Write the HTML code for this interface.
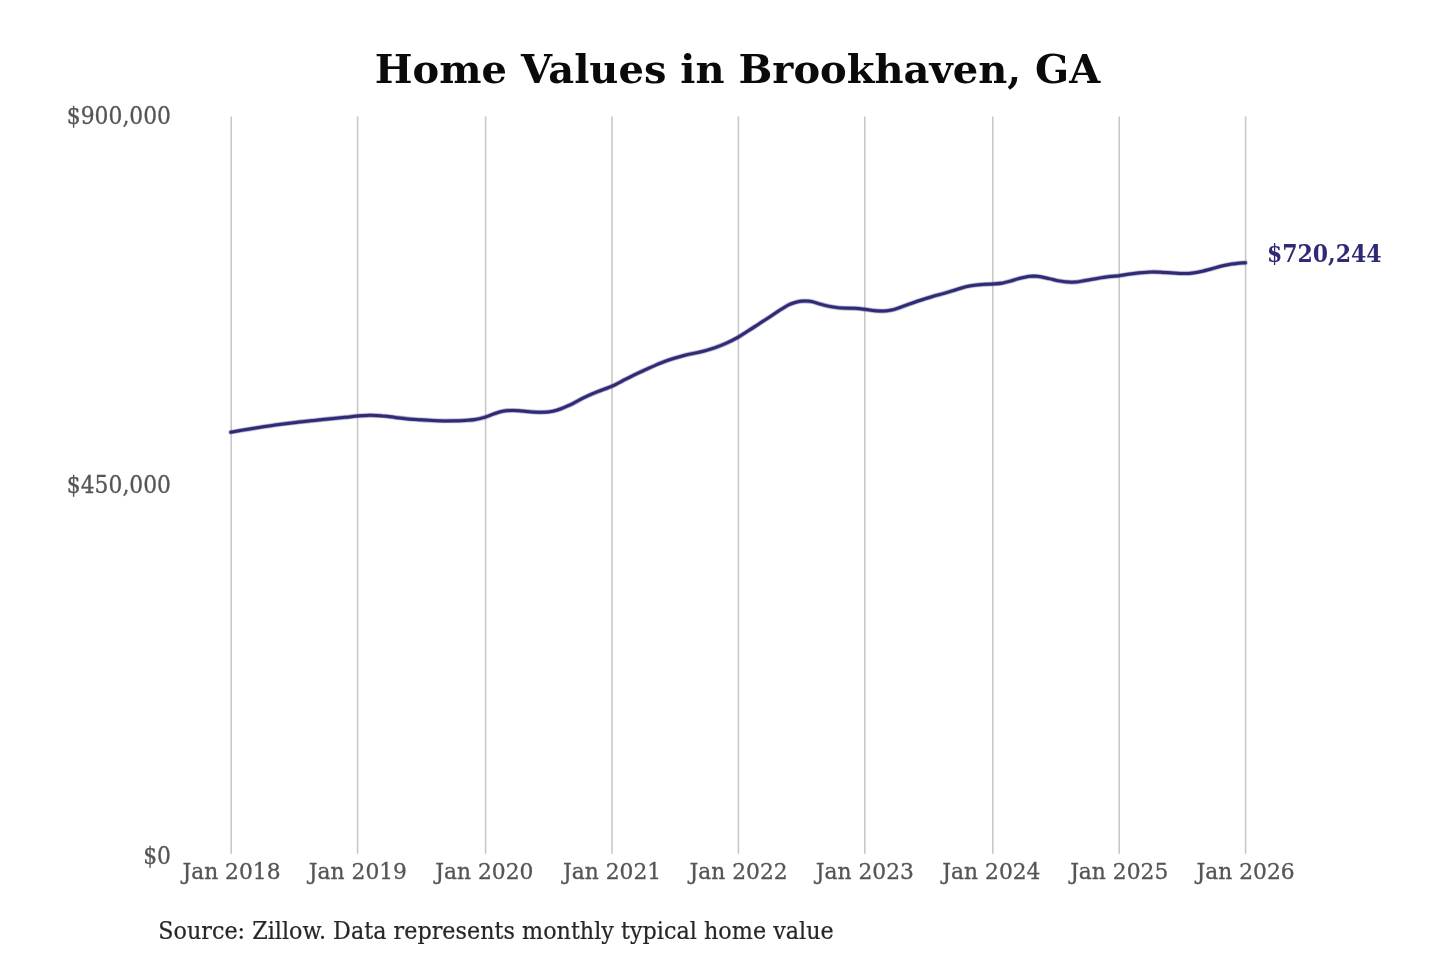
<!DOCTYPE html>
<html lang="en"><head><meta charset="utf-8"><title>Home Values in Brookhaven, GA</title>
<style>
html,body{margin:0;padding:0;background:#fff;}
body{width:1440px;height:960px;overflow:hidden;font-family:"DejaVu Serif","Liberation Serif",serif;}
svg{display:block;}
svg text{font-family:"DejaVu Serif","Liberation Serif",serif;}
.title{font-size:40px;font-weight:bold;fill:#0a0a0a;text-anchor:middle;}
.grid line{stroke:#c8c8c8;stroke-width:1.6;}
.yl text{font-size:21.85px;fill:#555;stroke:#555;stroke-width:.3px;text-anchor:end;}
.xl text{font-size:21.8px;fill:#555;stroke:#555;stroke-width:.3px;text-anchor:middle;}
.val{font-size:22px;font-weight:bold;fill:#2f2a76;}
.src{font-size:22.3px;fill:#262626;stroke:#262626;stroke-width:.2px;}
.ln{fill:none;stroke:#2f2a76;stroke-width:3.0;stroke-linecap:round;stroke-linejoin:round;}
.h1{stroke-width:5.4;stroke-opacity:.14;}
.h2{stroke-width:4.2;stroke-opacity:.38;}
</style></head><body>
<svg width="1440" height="960" viewBox="0 0 1440 960">
<rect width="1440" height="960" fill="#ffffff"/>
<text class="title" transform="translate(737.5,82.6) scale(1,0.972)">Home Values in Brookhaven, GA</text>
<g class="grid"><line x1="231.2" y1="116.6" x2="231.2" y2="853.8"/><line x1="357.6" y1="116.6" x2="357.6" y2="853.8"/><line x1="485.6" y1="116.6" x2="485.6" y2="853.8"/><line x1="612.0" y1="116.6" x2="612.0" y2="853.8"/><line x1="738.4" y1="116.6" x2="738.4" y2="853.8"/><line x1="864.8" y1="116.6" x2="864.8" y2="853.8"/><line x1="992.8" y1="116.6" x2="992.8" y2="853.8"/><line x1="1119.2" y1="116.6" x2="1119.2" y2="853.8"/><line x1="1245.6" y1="116.6" x2="1245.6" y2="853.8"/></g>
<g class="yl"><text transform="translate(171,124.3) scale(1,1.07)">$900,000</text><text transform="translate(171,492.5) scale(1,1.07)">$450,000</text><text transform="translate(171,863.5) scale(1,1.07)">$0</text></g>
<g class="xl"><text transform="translate(231.5,879.4) scale(1,1.06)">Jan 2018</text><text transform="translate(357.9,879.4) scale(1,1.06)">Jan 2019</text><text transform="translate(484.3,879.4) scale(1,1.06)">Jan 2020</text><text transform="translate(612.1,879.4) scale(1,1.06)">Jan 2021</text><text transform="translate(738.6,879.4) scale(1,1.06)">Jan 2022</text><text transform="translate(864.8,879.4) scale(1,1.06)">Jan 2023</text><text transform="translate(991.4,879.4) scale(1,1.06)">Jan 2024</text><text transform="translate(1119.2,879.4) scale(1,1.06)">Jan 2025</text><text transform="translate(1245.6,879.4) scale(1,1.06)">Jan 2026</text></g>
<path class="ln h1" d="M230.8,432.2C232.6,431.9 237.1,431.1 241.7,430.3C246.3,429.5 252.8,428.5 258.3,427.6C263.9,426.7 269.4,425.8 275.0,425.0C280.6,424.2 286.1,423.5 291.7,422.9C297.2,422.2 302.8,421.7 308.3,421.1C313.9,420.5 318.9,419.9 325.0,419.3C331.1,418.7 339.6,417.9 345.0,417.3C350.4,416.8 353.3,416.3 357.5,416.0C361.7,415.7 365.8,415.3 370.0,415.3C374.2,415.3 378.3,415.5 382.5,415.9C386.7,416.2 390.8,416.9 395.0,417.4C399.2,417.9 403.3,418.5 407.5,418.9C411.7,419.3 415.8,419.5 420.0,419.8C424.2,420.1 428.3,420.3 432.5,420.5C436.7,420.7 440.8,420.8 445.0,420.9C449.2,420.9 454.2,420.9 457.5,420.8C460.8,420.7 462.1,420.6 465.0,420.4C467.9,420.2 471.6,420.2 475.0,419.6C478.4,419.1 482.2,418.1 485.4,417.1C488.6,416.1 491.3,414.7 494.2,413.8C497.1,412.8 499.3,411.9 502.5,411.3C505.7,410.7 509.8,410.4 513.3,410.4C516.8,410.4 520.2,410.9 523.3,411.1C526.4,411.4 528.9,411.7 531.7,411.9C534.5,412.1 537.2,412.3 540.0,412.3C542.8,412.3 545.5,412.2 548.3,411.9C551.1,411.6 553.9,411.1 556.7,410.2C559.5,409.4 562.2,408.3 565.0,407.1C567.8,405.9 570.0,405.0 573.3,403.3C576.6,401.6 581.0,399.0 585.0,397.1C589.0,395.2 593.0,393.5 597.5,391.7C602.0,389.9 607.9,388.0 612.1,386.2C616.3,384.4 618.7,382.7 622.5,380.8C626.3,378.9 630.8,376.6 635.0,374.6C639.2,372.6 643.3,370.6 647.5,368.8C651.7,366.9 655.8,365.0 660.0,363.3C664.2,361.6 668.3,360.1 672.5,358.8C676.7,357.4 680.8,356.3 685.0,355.2C689.2,354.2 694.2,353.3 697.5,352.6C700.8,351.9 702.0,351.7 705.0,350.8C708.0,349.9 712.2,348.7 715.8,347.4C719.4,346.1 723.0,344.7 726.7,343.0C730.5,341.3 734.7,339.1 738.3,337.1C741.9,335.1 744.8,333.0 748.3,330.8C751.8,328.6 755.6,326.1 759.2,323.8C762.8,321.4 766.5,319.0 770.0,316.7C773.5,314.4 777.0,312.1 780.0,310.1C783.0,308.2 785.8,306.3 788.3,305.0C790.8,303.7 792.9,303.1 795.0,302.5C797.1,301.9 798.8,301.5 800.8,301.2C802.8,301.0 804.8,301.0 806.7,301.1C808.7,301.2 810.6,301.3 812.5,301.7C814.4,302.1 816.2,303.0 818.3,303.6C820.4,304.2 822.5,304.8 825.0,305.4C827.5,306.0 830.2,306.6 833.3,307.0C836.3,307.4 839.8,307.9 843.3,308.1C846.8,308.3 850.7,308.1 854.2,308.3C857.8,308.5 861.1,308.9 864.6,309.3C868.1,309.7 871.9,310.4 875.0,310.7C878.1,311.0 880.5,311.2 883.3,311.1C886.1,311.0 888.9,310.6 891.7,310.0C894.5,309.4 897.2,308.4 900.0,307.5C902.8,306.6 905.5,305.4 908.3,304.4C911.1,303.4 913.9,302.4 916.7,301.5C919.5,300.6 922.2,299.6 925.0,298.8C927.8,297.9 930.0,297.2 933.3,296.2C936.6,295.3 941.4,294.1 945.0,293.1C948.6,292.1 951.5,291.1 955.0,290.0C958.5,288.9 962.2,287.6 965.8,286.8C969.4,286.0 973.5,285.4 976.7,285.0C979.9,284.6 982.3,284.5 985.0,284.3C987.7,284.1 989.9,284.2 992.9,284.0C995.9,283.8 1000.2,283.4 1003.3,282.9C1006.4,282.3 1008.9,281.5 1011.7,280.7C1014.5,279.9 1017.2,278.9 1020.0,278.2C1022.8,277.5 1026.1,276.9 1028.3,276.5C1030.5,276.1 1031.2,276.1 1033.3,276.1C1035.4,276.2 1038.1,276.4 1040.8,276.8C1043.5,277.2 1046.4,278.0 1049.2,278.6C1052.0,279.2 1054.9,280.1 1057.5,280.6C1060.1,281.1 1062.1,281.6 1065.0,281.8C1067.9,282.1 1071.5,282.3 1075.0,282.1C1078.5,281.9 1081.9,281.0 1085.8,280.4C1089.7,279.8 1094.5,278.8 1098.3,278.2C1102.0,277.6 1104.8,277.1 1108.3,276.7C1111.8,276.3 1115.6,276.1 1119.2,275.7C1122.8,275.2 1126.5,274.5 1130.0,274.0C1133.5,273.5 1136.4,273.1 1140.0,272.8C1143.6,272.5 1148.2,272.1 1151.7,272.0C1155.2,271.9 1157.2,272.0 1160.8,272.2C1164.4,272.4 1169.3,272.8 1173.3,273.0C1177.3,273.2 1181.7,273.5 1185.0,273.5C1188.3,273.5 1190.4,273.3 1193.3,272.9C1196.2,272.5 1199.4,271.9 1202.5,271.2C1205.6,270.6 1208.5,269.6 1211.7,268.8C1214.9,267.9 1218.4,266.8 1221.7,266.0C1225.0,265.2 1228.7,264.5 1231.7,264.0C1234.8,263.5 1237.7,263.3 1240.0,263.1C1242.3,262.9 1244.5,262.8 1245.4,262.8"/><path class="ln h2" d="M230.8,432.2C232.6,431.9 237.1,431.1 241.7,430.3C246.3,429.5 252.8,428.5 258.3,427.6C263.9,426.7 269.4,425.8 275.0,425.0C280.6,424.2 286.1,423.5 291.7,422.9C297.2,422.2 302.8,421.7 308.3,421.1C313.9,420.5 318.9,419.9 325.0,419.3C331.1,418.7 339.6,417.9 345.0,417.3C350.4,416.8 353.3,416.3 357.5,416.0C361.7,415.7 365.8,415.3 370.0,415.3C374.2,415.3 378.3,415.5 382.5,415.9C386.7,416.2 390.8,416.9 395.0,417.4C399.2,417.9 403.3,418.5 407.5,418.9C411.7,419.3 415.8,419.5 420.0,419.8C424.2,420.1 428.3,420.3 432.5,420.5C436.7,420.7 440.8,420.8 445.0,420.9C449.2,420.9 454.2,420.9 457.5,420.8C460.8,420.7 462.1,420.6 465.0,420.4C467.9,420.2 471.6,420.2 475.0,419.6C478.4,419.1 482.2,418.1 485.4,417.1C488.6,416.1 491.3,414.7 494.2,413.8C497.1,412.8 499.3,411.9 502.5,411.3C505.7,410.7 509.8,410.4 513.3,410.4C516.8,410.4 520.2,410.9 523.3,411.1C526.4,411.4 528.9,411.7 531.7,411.9C534.5,412.1 537.2,412.3 540.0,412.3C542.8,412.3 545.5,412.2 548.3,411.9C551.1,411.6 553.9,411.1 556.7,410.2C559.5,409.4 562.2,408.3 565.0,407.1C567.8,405.9 570.0,405.0 573.3,403.3C576.6,401.6 581.0,399.0 585.0,397.1C589.0,395.2 593.0,393.5 597.5,391.7C602.0,389.9 607.9,388.0 612.1,386.2C616.3,384.4 618.7,382.7 622.5,380.8C626.3,378.9 630.8,376.6 635.0,374.6C639.2,372.6 643.3,370.6 647.5,368.8C651.7,366.9 655.8,365.0 660.0,363.3C664.2,361.6 668.3,360.1 672.5,358.8C676.7,357.4 680.8,356.3 685.0,355.2C689.2,354.2 694.2,353.3 697.5,352.6C700.8,351.9 702.0,351.7 705.0,350.8C708.0,349.9 712.2,348.7 715.8,347.4C719.4,346.1 723.0,344.7 726.7,343.0C730.5,341.3 734.7,339.1 738.3,337.1C741.9,335.1 744.8,333.0 748.3,330.8C751.8,328.6 755.6,326.1 759.2,323.8C762.8,321.4 766.5,319.0 770.0,316.7C773.5,314.4 777.0,312.1 780.0,310.1C783.0,308.2 785.8,306.3 788.3,305.0C790.8,303.7 792.9,303.1 795.0,302.5C797.1,301.9 798.8,301.5 800.8,301.2C802.8,301.0 804.8,301.0 806.7,301.1C808.7,301.2 810.6,301.3 812.5,301.7C814.4,302.1 816.2,303.0 818.3,303.6C820.4,304.2 822.5,304.8 825.0,305.4C827.5,306.0 830.2,306.6 833.3,307.0C836.3,307.4 839.8,307.9 843.3,308.1C846.8,308.3 850.7,308.1 854.2,308.3C857.8,308.5 861.1,308.9 864.6,309.3C868.1,309.7 871.9,310.4 875.0,310.7C878.1,311.0 880.5,311.2 883.3,311.1C886.1,311.0 888.9,310.6 891.7,310.0C894.5,309.4 897.2,308.4 900.0,307.5C902.8,306.6 905.5,305.4 908.3,304.4C911.1,303.4 913.9,302.4 916.7,301.5C919.5,300.6 922.2,299.6 925.0,298.8C927.8,297.9 930.0,297.2 933.3,296.2C936.6,295.3 941.4,294.1 945.0,293.1C948.6,292.1 951.5,291.1 955.0,290.0C958.5,288.9 962.2,287.6 965.8,286.8C969.4,286.0 973.5,285.4 976.7,285.0C979.9,284.6 982.3,284.5 985.0,284.3C987.7,284.1 989.9,284.2 992.9,284.0C995.9,283.8 1000.2,283.4 1003.3,282.9C1006.4,282.3 1008.9,281.5 1011.7,280.7C1014.5,279.9 1017.2,278.9 1020.0,278.2C1022.8,277.5 1026.1,276.9 1028.3,276.5C1030.5,276.1 1031.2,276.1 1033.3,276.1C1035.4,276.2 1038.1,276.4 1040.8,276.8C1043.5,277.2 1046.4,278.0 1049.2,278.6C1052.0,279.2 1054.9,280.1 1057.5,280.6C1060.1,281.1 1062.1,281.6 1065.0,281.8C1067.9,282.1 1071.5,282.3 1075.0,282.1C1078.5,281.9 1081.9,281.0 1085.8,280.4C1089.7,279.8 1094.5,278.8 1098.3,278.2C1102.0,277.6 1104.8,277.1 1108.3,276.7C1111.8,276.3 1115.6,276.1 1119.2,275.7C1122.8,275.2 1126.5,274.5 1130.0,274.0C1133.5,273.5 1136.4,273.1 1140.0,272.8C1143.6,272.5 1148.2,272.1 1151.7,272.0C1155.2,271.9 1157.2,272.0 1160.8,272.2C1164.4,272.4 1169.3,272.8 1173.3,273.0C1177.3,273.2 1181.7,273.5 1185.0,273.5C1188.3,273.5 1190.4,273.3 1193.3,272.9C1196.2,272.5 1199.4,271.9 1202.5,271.2C1205.6,270.6 1208.5,269.6 1211.7,268.8C1214.9,267.9 1218.4,266.8 1221.7,266.0C1225.0,265.2 1228.7,264.5 1231.7,264.0C1234.8,263.5 1237.7,263.3 1240.0,263.1C1242.3,262.9 1244.5,262.8 1245.4,262.8"/><path class="ln" d="M230.8,432.2C232.6,431.9 237.1,431.1 241.7,430.3C246.3,429.5 252.8,428.5 258.3,427.6C263.9,426.7 269.4,425.8 275.0,425.0C280.6,424.2 286.1,423.5 291.7,422.9C297.2,422.2 302.8,421.7 308.3,421.1C313.9,420.5 318.9,419.9 325.0,419.3C331.1,418.7 339.6,417.9 345.0,417.3C350.4,416.8 353.3,416.3 357.5,416.0C361.7,415.7 365.8,415.3 370.0,415.3C374.2,415.3 378.3,415.5 382.5,415.9C386.7,416.2 390.8,416.9 395.0,417.4C399.2,417.9 403.3,418.5 407.5,418.9C411.7,419.3 415.8,419.5 420.0,419.8C424.2,420.1 428.3,420.3 432.5,420.5C436.7,420.7 440.8,420.8 445.0,420.9C449.2,420.9 454.2,420.9 457.5,420.8C460.8,420.7 462.1,420.6 465.0,420.4C467.9,420.2 471.6,420.2 475.0,419.6C478.4,419.1 482.2,418.1 485.4,417.1C488.6,416.1 491.3,414.7 494.2,413.8C497.1,412.8 499.3,411.9 502.5,411.3C505.7,410.7 509.8,410.4 513.3,410.4C516.8,410.4 520.2,410.9 523.3,411.1C526.4,411.4 528.9,411.7 531.7,411.9C534.5,412.1 537.2,412.3 540.0,412.3C542.8,412.3 545.5,412.2 548.3,411.9C551.1,411.6 553.9,411.1 556.7,410.2C559.5,409.4 562.2,408.3 565.0,407.1C567.8,405.9 570.0,405.0 573.3,403.3C576.6,401.6 581.0,399.0 585.0,397.1C589.0,395.2 593.0,393.5 597.5,391.7C602.0,389.9 607.9,388.0 612.1,386.2C616.3,384.4 618.7,382.7 622.5,380.8C626.3,378.9 630.8,376.6 635.0,374.6C639.2,372.6 643.3,370.6 647.5,368.8C651.7,366.9 655.8,365.0 660.0,363.3C664.2,361.6 668.3,360.1 672.5,358.8C676.7,357.4 680.8,356.3 685.0,355.2C689.2,354.2 694.2,353.3 697.5,352.6C700.8,351.9 702.0,351.7 705.0,350.8C708.0,349.9 712.2,348.7 715.8,347.4C719.4,346.1 723.0,344.7 726.7,343.0C730.5,341.3 734.7,339.1 738.3,337.1C741.9,335.1 744.8,333.0 748.3,330.8C751.8,328.6 755.6,326.1 759.2,323.8C762.8,321.4 766.5,319.0 770.0,316.7C773.5,314.4 777.0,312.1 780.0,310.1C783.0,308.2 785.8,306.3 788.3,305.0C790.8,303.7 792.9,303.1 795.0,302.5C797.1,301.9 798.8,301.5 800.8,301.2C802.8,301.0 804.8,301.0 806.7,301.1C808.7,301.2 810.6,301.3 812.5,301.7C814.4,302.1 816.2,303.0 818.3,303.6C820.4,304.2 822.5,304.8 825.0,305.4C827.5,306.0 830.2,306.6 833.3,307.0C836.3,307.4 839.8,307.9 843.3,308.1C846.8,308.3 850.7,308.1 854.2,308.3C857.8,308.5 861.1,308.9 864.6,309.3C868.1,309.7 871.9,310.4 875.0,310.7C878.1,311.0 880.5,311.2 883.3,311.1C886.1,311.0 888.9,310.6 891.7,310.0C894.5,309.4 897.2,308.4 900.0,307.5C902.8,306.6 905.5,305.4 908.3,304.4C911.1,303.4 913.9,302.4 916.7,301.5C919.5,300.6 922.2,299.6 925.0,298.8C927.8,297.9 930.0,297.2 933.3,296.2C936.6,295.3 941.4,294.1 945.0,293.1C948.6,292.1 951.5,291.1 955.0,290.0C958.5,288.9 962.2,287.6 965.8,286.8C969.4,286.0 973.5,285.4 976.7,285.0C979.9,284.6 982.3,284.5 985.0,284.3C987.7,284.1 989.9,284.2 992.9,284.0C995.9,283.8 1000.2,283.4 1003.3,282.9C1006.4,282.3 1008.9,281.5 1011.7,280.7C1014.5,279.9 1017.2,278.9 1020.0,278.2C1022.8,277.5 1026.1,276.9 1028.3,276.5C1030.5,276.1 1031.2,276.1 1033.3,276.1C1035.4,276.2 1038.1,276.4 1040.8,276.8C1043.5,277.2 1046.4,278.0 1049.2,278.6C1052.0,279.2 1054.9,280.1 1057.5,280.6C1060.1,281.1 1062.1,281.6 1065.0,281.8C1067.9,282.1 1071.5,282.3 1075.0,282.1C1078.5,281.9 1081.9,281.0 1085.8,280.4C1089.7,279.8 1094.5,278.8 1098.3,278.2C1102.0,277.6 1104.8,277.1 1108.3,276.7C1111.8,276.3 1115.6,276.1 1119.2,275.7C1122.8,275.2 1126.5,274.5 1130.0,274.0C1133.5,273.5 1136.4,273.1 1140.0,272.8C1143.6,272.5 1148.2,272.1 1151.7,272.0C1155.2,271.9 1157.2,272.0 1160.8,272.2C1164.4,272.4 1169.3,272.8 1173.3,273.0C1177.3,273.2 1181.7,273.5 1185.0,273.5C1188.3,273.5 1190.4,273.3 1193.3,272.9C1196.2,272.5 1199.4,271.9 1202.5,271.2C1205.6,270.6 1208.5,269.6 1211.7,268.8C1214.9,267.9 1218.4,266.8 1221.7,266.0C1225.0,265.2 1228.7,264.5 1231.7,264.0C1234.8,263.5 1237.7,263.3 1240.0,263.1C1242.3,262.9 1244.5,262.8 1245.4,262.8"/>
<text class="val" transform="translate(1266.9,261.8) scale(1,1.07)">$720,244</text>
<text class="src" transform="translate(158.2,939) scale(1,1.06)">Source: Zillow. Data represents monthly typical home value</text>
</svg>
</body></html>
